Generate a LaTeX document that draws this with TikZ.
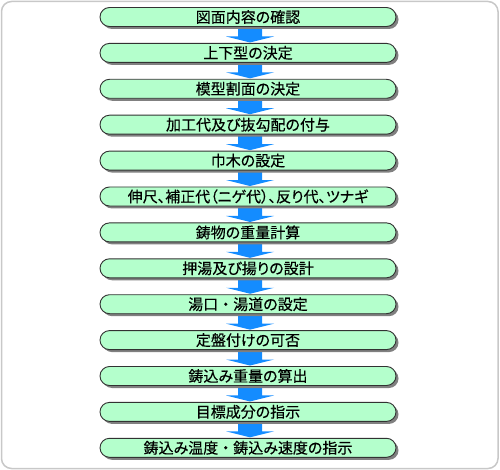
\documentclass[tikz,border=0pt]{standalone}
\usepackage{fontspec}
\newfontfamily\jp[RawFeature=+palt,FakeBold=0.35]{Noto Sans CJK JP}
\newfontfamily\jpfull[FakeBold=0.35]{Noto Sans CJK JP}
\newcommand{\nakaguro}{{\jpfull ・}}
\usetikzlibrary{calc,shadows}
\pgfdeclarelayer{background}
\pgfsetlayers{background,main}
\definecolor{boxgreen}{RGB}{180,255,204}
\definecolor{boxline}{RGB}{50,50,50}
\definecolor{arrowblue}{RGB}{20,140,255}
\definecolor{framegray}{RGB}{200,200,200}
\tikzset{
  stepbox/.style={draw=boxline, line width=0.9pt, fill=boxgreen,
    rounded corners=9.5pt, minimum width=296pt, minimum height=19pt,
    inner sep=0pt, font=\jp\fontsize{15pt}{18pt}\selectfont,
    drop shadow={shadow xshift=2.5pt, shadow yshift=-2.5pt, fill=black!50, opacity=1}},
  flowarrow/.style={fill=arrowblue, draw=none}
}
\begin{document}
\begin{tikzpicture}[x=1pt,y=-1pt]
\useasboundingbox (0,0) rectangle (500,470);
\foreach \i/\t in {1/図面内容の確認,2/上下型の決定,3/模型割面の決定,4/加工代及び抜勾配の付与,5/巾木の設定,6/伸尺、補正代（ニゲ代）、反り代、ツナギ,7/鋳物の重量計算,8/押湯及び揚りの設計,9/湯口\nakaguro 湯道の設定,10/定盤付けの可否,11/鋳込み重量の算出,12/目標成分の指示,13/鋳込み温度\nakaguro 鋳込み速度の指示}{
  \node[stepbox] (b\i) at (248, {17 + 35.9*(\i-1)}) {\t};
}
\begin{pgfonlayer}{background}
\draw[framegray, line width=1.5pt, rounded corners=10pt] (1.5,1.5) rectangle (498,468.5);
\foreach \i [evaluate=\i as \j using int(\i+1)] in {1,...,12}{
  \fill[flowarrow] ($(b\i.south)+(-10,0)$) -- ($(b\i.south)+(14,0)$)
    -- ($(b\i.south)+(14,9.5)$) -- ($(b\i.south)+(26,9.5)$)
    -- ($(b\j.north)+(2,-0.5)$) -- ($(b\i.south)+(-22,9.5)$)
    -- ($(b\i.south)+(-10,9.5)$) -- cycle;
}
\end{pgfonlayer}
\end{tikzpicture}
\end{document}
